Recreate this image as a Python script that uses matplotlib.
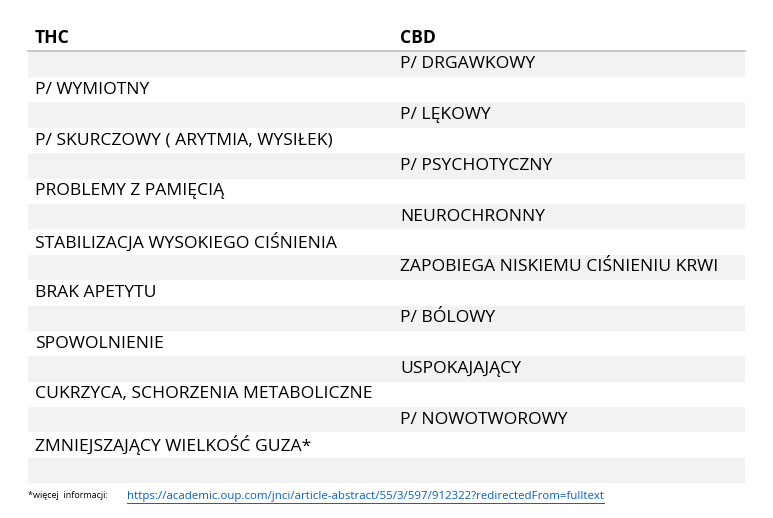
import matplotlib
matplotlib.use("Agg")
import matplotlib.pyplot as plt
from matplotlib.patches import Rectangle

headers = ["THC", "CBD"]
thc = ["P/ WYMIOTNY", "P/ SKURCZOWY ( ARYTMIA, WYSIŁEK)", "PROBLEMY Z PAMIĘCIĄ",
       "STABILIZACJA WYSOKIEGO CIŚNIENIA", "BRAK APETYTU", "SPOWOLNIENIE",
       "CUKRZYCA, SCHORZENIA METABOLICZNE", "ZMNIEJSZAJĄCY WIELKOŚĆ GUZA*"]
cbd = ["P/ DRGAWKOWY", "P/ LĘKOWY", "P/ PSYCHOTYCZNY", "NEUROCHRONNY",
       "ZAPOBIEGA NISKIEMU CIŚNIENIU KRWI", "P/ BÓLOWY", "USPOKAJAJĄCY", "P/ NOWOTWOROWY"]
foot_label = "*więcej  informacji:"
foot_link = "https://academic.oup.com/jnci/article-abstract/55/3/597/912322?redirectedFrom=fulltext"

W, H = 773, 518
fig = plt.figure(figsize=(W/100, H/100), dpi=100)
ax = fig.add_axes([0, 0, 1, 1])
ax.set_xlim(0, W); ax.set_ylim(H, 0); ax.axis("off")
font = "Open Sans"
fs = 12.6
top, rh = 51.5, 25.4
nrows = 17
for i in range(nrows):
    if i % 2 == 0:
        ax.add_patch(Rectangle((28, top + i*rh), 717, rh, color="#f2f2f2", lw=0))
ax.plot([28, 745], [50.5, 50.5], color="#bfbfbf", lw=1.2)
ax.text(35, 38, headers[0], fontsize=fs, fontweight="bold", family=font, va="center")
ax.text(400, 38, headers[1], fontsize=fs, fontweight="bold", family=font, va="center")
for i, t in enumerate(cbd):
    ax.text(400, top + (2*i + 0.5)*rh, t, fontsize=fs, family=font, va="center")
for i, t in enumerate(thc):
    ax.text(35, top + (2*i + 1.5)*rh, t, fontsize=fs, family=font, va="center")
ax.text(28, 496, foot_label, fontsize=6.5, family=font, va="center")
ax.text(127, 496, foot_link, fontsize=8.25, family=font, va="center", color="#0563c1")
ax.plot([127, 604], [503, 503], color="#0563c1", lw=0.7)
fig.savefig("out.png", dpi=100)
